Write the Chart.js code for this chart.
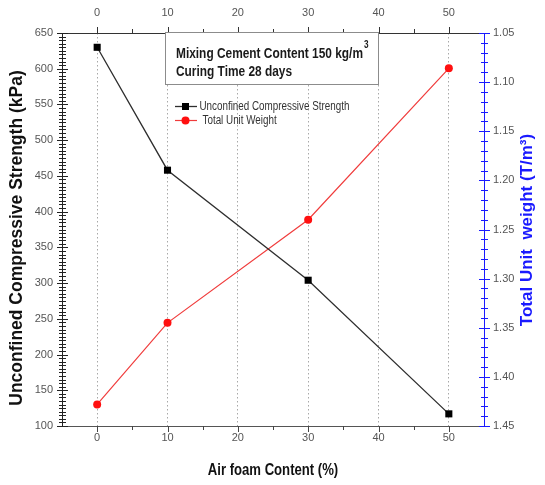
<!DOCTYPE html>
<html>
<head>
<meta charset="utf-8">
<title>Strength and unit weight vs air foam content</title>
<script src="https://cdn.jsdelivr.net/npm/chart.js@4.4.1/dist/chart.umd.min.js"></script>
<style>
  html, body { margin: 0; padding: 0; background: #fff; }
  canvas { display: block; }
</style>
</head>
<body>
<canvas id="foamChart" width="545" height="485"></canvas>
<script>
// Air foam content (%)
const foamContent = [0, 10, 30, 50];
// Unconfined compressive strength (kPa) - left axis
const strengthKPa = [630, 458, 304, 117];
// Total unit weight (T/m3) - right axis, drawn reversed
const unitWeight = [1.428, 1.345, 1.240, 1.086];

// tick labels
const foamTicks = [0, 10, 20, 30, 40, 50];
const strengthTicks = [100, 150, 200, 250, 300, 350, 400, 450, 500, 550, 600, 650];
const weightTicks = [1.05, 1.10, 1.15, 1.20, 1.25, 1.30, 1.35, 1.40, 1.45];

const noteLines = ['Mixing Cement Content 150 kg/m', 'Curing Time 28 days'];

const SANS = "'Liberation Sans', Arial, sans-serif";
const tickFont = { family: SANS, size: 11 };
const BLUE = '#1a1aff';

// use the narrow face when installed, otherwise squeeze the regular one
function fontAvailable(name) {
    const c = document.createElement('canvas').getContext('2d');
    c.font = '20px monospace';
    const a = c.measureText('Compressive Strength').width;
    c.font = `20px '${name}', monospace`;
    return c.measureText('Compressive Strength').width !== a;
}
const HAS_NARROW = fontAvailable('Liberation Sans Narrow');

function narrowText(ctx, text, x, y, size, weight, align) {
    ctx.save();
    ctx.textAlign = align || 'left';
    ctx.textBaseline = 'middle';
    let w;
    if (HAS_NARROW) {
        ctx.font = `${weight} ${size}px 'Liberation Sans Narrow'`;
        ctx.fillText(text, x, y);
        w = ctx.measureText(text).width;
    } else {
        ctx.font = `${weight} ${size}px ${SANS}`;
        ctx.translate(x, y);
        ctx.scale(0.82, 1);
        ctx.fillText(text, 0, 0);
        w = ctx.measureText(text).width * 0.82;
    }
    ctx.restore();
    return w;
}

function verticalText(ctx, text, x, y, font, color) {
    ctx.save();
    ctx.translate(x, y);
    ctx.rotate(-Math.PI / 2);
    ctx.font = font;
    ctx.fillStyle = color;
    ctx.textAlign = 'center';
    ctx.textBaseline = 'middle';
    ctx.fillText(text, 0, 0);
    ctx.restore();
}

// major + minor tick marks; edge = pixel of the axis line
function tickMarks(ctx, scale, step, majorEvery, color, side, edge, skipEnds) {
    const n = Math.round((scale.max - scale.min) / step);
    ctx.fillStyle = color;
    const first = skipEnds ? 1 : 0;
    const last = skipEnds ? n - 1 : n;
    for (let i = first; i <= last; i++) {
        const v = scale.min + i * step;
        const q = v / majorEvery;
        const major = Math.abs(q - Math.round(q)) < 1e-6;
        const p = Math.round(scale.getPixelForValue(v));
        const e = Math.round(edge);
        if (side === 'left' || side === 'right') {
            const l = major ? 5 : 3;
            ctx.fillRect(e - l, p, 2 * l + 1, 1);
        } else if (side === 'bottom') {
            ctx.fillRect(p, e, 1, major ? 6 : 4);
        } else {
            const l = major ? 6 : 4;
            ctx.fillRect(p, e - l, 1, l);
        }
    }
}

const decorations = {
    id: 'decorations',
    afterDraw(chart) {
        const ctx = chart.ctx;
        const s = chart.scales;
        const area = chart.chartArea;
        ctx.save();
        tickMarks(ctx, s.x, 5, 10, '#444', 'bottom', area.bottom, true);
        tickMarks(ctx, s.xTop, 5, 10, '#333', 'top', area.top, true);
        tickMarks(ctx, s.yStrength, 5, 50, '#222', 'left', area.left, false);
        tickMarks(ctx, s.yWeight, 0.01, 0.05, BLUE, 'right', area.right, false);

        // note box
        ctx.fillStyle = '#fff';
        ctx.strokeStyle = '#8c8c8c';
        ctx.lineWidth = 1;
        ctx.fillRect(165.5, 32.5, 213, 52);
        ctx.strokeRect(165.5, 32.5, 213, 52);
        ctx.fillStyle = '#1a1a1a';
        const w = narrowText(ctx, noteLines[0], 176, 53.5, 14.5, 'bold');
        narrowText(ctx, '3', 176 + w + 1, 45.5, 10, 'bold');
        narrowText(ctx, noteLines[1], 176, 72, 14.5, 'bold');

        // legend
        const rows = [106, 120];
        chart.data.datasets.forEach((ds, i) => {
            const y = rows[i] + 0.5;
            ctx.strokeStyle = ds.borderColor;
            ctx.lineWidth = ds.borderWidth;
            ctx.beginPath();
            ctx.moveTo(175, y); ctx.lineTo(197, y);
            ctx.stroke();
            ctx.fillStyle = ds.pointBackgroundColor;
            if (ds.pointStyle === 'rect') {
                ctx.fillRect(182, y - 3.5, 7, 7);
            } else {
                ctx.beginPath();
                ctx.arc(185.5, y, 4, 0, Math.PI * 2);
                ctx.fill();
            }
            ctx.fillStyle = '#333';
            narrowText(ctx, ds.label, i === 0 ? 199.5 : 202.5, y, 12, 'normal');
        });

        // axis titles
        verticalText(ctx, 'Unconfined Compressive Strength (kPa)', 17, 238, `bold 17.5px ${SANS}`, '#111');
        verticalText(ctx, 'Total Unit  weight (T/m\u00B3)', 527, 230, `bold 17px ${SANS}`, BLUE);
        ctx.fillStyle = '#111';
        narrowText(ctx, 'Air foam Content (%)', 273, 471, 16, 'bold', 'center');
        ctx.restore();
    }
};

const foamChart = new Chart(document.getElementById('foamChart'), {
    type: 'line',
    data: {
        datasets: [{
            label: 'Unconfined Compressive Strength',
            data: foamContent.map((x, i) => ({ x: x, y: strengthKPa[i] })),
            xAxisID: 'x',
            yAxisID: 'yStrength',
            borderColor: '#2e2e2e',
            borderWidth: 1.3,
            pointStyle: 'rect',
            pointRadius: 5,
            pointBackgroundColor: '#000',
            pointBorderColor: '#000',
            pointBorderWidth: 0,
            tension: 0
        }, {
            label: 'Total Unit Weight',
            data: foamContent.map((x, i) => ({ x: x, y: unitWeight[i] })),
            xAxisID: 'x',
            yAxisID: 'yWeight',
            borderColor: '#f03c3c',
            borderWidth: 1.2,
            pointStyle: 'circle',
            pointRadius: 4,
            pointBackgroundColor: '#ff1010',
            pointBorderColor: '#ff1010',
            pointBorderWidth: 0,
            tension: 0
        }]
    },
    options: {
        responsive: false,
        animation: false,
        layout: { padding: 0 },
        plugins: {
            legend: { display: false },
            tooltip: { enabled: false }
        },
        scales: {
            x: {
                type: 'linear',
                position: 'bottom',
                min: -5,
                max: 55,
                afterBuildTicks: (s) => { s.ticks = foamTicks.map(v => ({ value: v })); },
                afterFit: (s) => { s.height = 59; },
                grid: { color: '#a8a8a8', lineWidth: 1, drawTicks: false },
                border: { color: '#555', width: 1, dash: [1.5, 2.5] },
                ticks: { color: '#555', font: tickFont, padding: 5, maxRotation: 0 }
            },
            xTop: {
                type: 'linear',
                position: 'top',
                min: -5,
                max: 55,
                afterBuildTicks: (s) => { s.ticks = foamTicks.map(v => ({ value: v })); },
                afterFit: (s) => { s.height = 33; },
                grid: { drawOnChartArea: false, drawTicks: false },
                border: { color: '#333', width: 1 },
                ticks: { color: '#555', font: tickFont, padding: 13, maxRotation: 0 }
            },
            yStrength: {
                type: 'linear',
                position: 'left',
                min: 100,
                max: 650,
                afterBuildTicks: (s) => { s.ticks = strengthTicks.map(v => ({ value: v })); },
                afterFit: (s) => { s.width = 62; },
                grid: { drawOnChartArea: false, drawTicks: false },
                border: { color: '#222', width: 1 },
                ticks: { color: '#555', font: tickFont, padding: 9 }
            },
            yWeight: {
                type: 'linear',
                position: 'right',
                reverse: true,
                min: 1.05,
                max: 1.45,
                afterBuildTicks: (s) => { s.ticks = weightTicks.map(v => ({ value: v })); },
                afterFit: (s) => { s.width = 61; },
                grid: { drawOnChartArea: false, drawTicks: false },
                border: { color: BLUE, width: 1 },
                ticks: {
                    color: '#555',
                    font: tickFont,
                    padding: 9,
                    callback: (v) => Number(v).toFixed(2)
                }
            }
        }
    },
    plugins: [decorations]
});
</script>
</body>
</html>
